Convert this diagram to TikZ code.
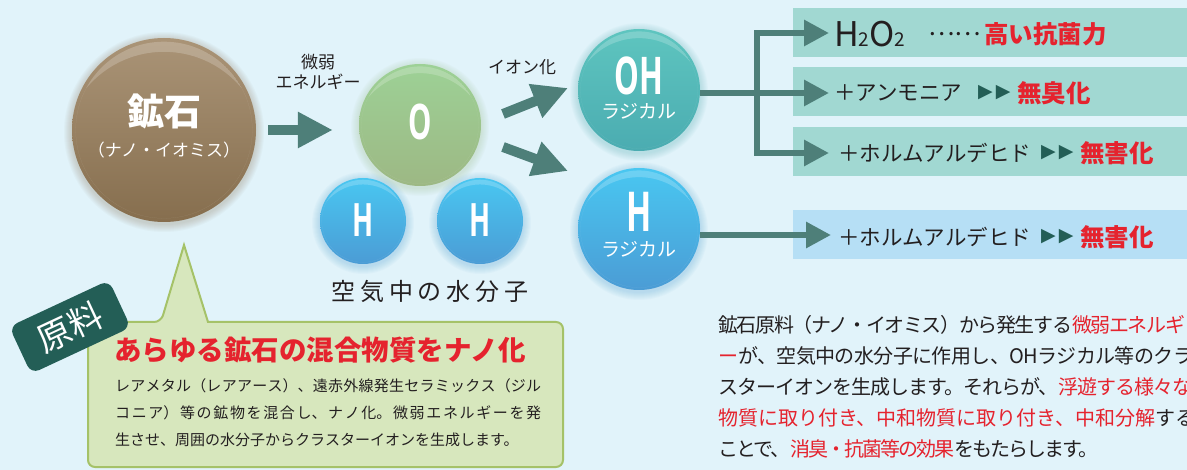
\documentclass[tikz,border=0pt]{standalone}
\usepackage{fontspec}
\setmainfont{Noto Sans CJK JP}
\newfontfamily\condf[FakeStretch=0.6]{Open Sans}
\newfontfamily\symf{DejaVu Sans}
\usetikzlibrary{arrows.meta,calc}
\definecolor{bg}{HTML}{E1F3FA}
\definecolor{arr}{HTML}{4E7F79}
\definecolor{tagc}{HTML}{235E56}
\definecolor{redc}{HTML}{E5232E}
\definecolor{ink}{HTML}{231F20}
\definecolor{boxg}{HTML}{A1D8D2}
\definecolor{boxb}{HTML}{B6DFF5}
\definecolor{calfill}{HTML}{D7E7BD}
\definecolor{caldraw}{HTML}{A5C268}
\definecolor{oreT}{HTML}{AA9477}
\definecolor{oreB}{HTML}{866E4E}
\definecolor{oT}{HTML}{9DD196}
\definecolor{oB}{HTML}{9DB884}
\definecolor{hT}{HTML}{49C7F1}
\definecolor{hB}{HTML}{4B9CD5}
\definecolor{ohT}{HTML}{5EC5BF}
\definecolor{ohB}{HTML}{4BACB1}
\XeTeXlinebreaklocale "ja"
\XeTeXlinebreakskip=0pt plus 1pt
\newcommand\fs[1]{\fontsize{#1}{#1}\selectfont}
\newcommand\lsp[1]{\addfontfeature{LetterSpace=#1}}
\newcommand\myball[6]{%
  \foreach \k in {1,...,8}{\fill[#6,opacity=0.035] (#2,#3+2) circle[radius=#4+\k];}
  \node[circle,inner sep=0,minimum size={2*#4pt},top color=#5,bottom color=#6] (#1) at (#2,#3) {};
  \begin{scope}
    \clip (#2,#3) circle[radius=#4*0.96];
    \fill[white,opacity=0.2,even odd rule] (#2,#3) circle[radius=#4*0.96] (#2,#3+#4*0.25) circle[radius=#4*1.1];
  \end{scope}
}
\tikzset{
  tbox/.style={fill=#1, inner sep=0, minimum height=49pt, minimum width=430pt, anchor=west},
  blk/.style={draw=arr, line width=10pt, -{Triangle[length=35pt,width=34pt]}},
  br/.style={draw=arr, line width=6pt},
  brtip/.style={br, -{Triangle[length=25pt,width=25pt]}},
  txt/.style={anchor=west, inner sep=0, text=ink},
  lbl/.style={inner sep=0, text=ink, font=\fs{17}},
  wtxt/.style={inner sep=0, text=white}
}
\begin{document}
\begin{tikzpicture}[x=1pt,y=-1pt]
\useasboundingbox (0,0) rectangle (1187,470);
\clip (0,0) rectangle (1187,470);
\fill[bg] (0,0) rectangle (1187,470);

% result boxes
\node[tbox=boxg] (b1) at (793,32.5) {};
\node[tbox=boxg] (b2) at (793,91.5) {};
\node[tbox=boxg] (b3) at (793,151.5) {};
\node[tbox=boxb] (b4) at (793,235) {};

% balls
\myball{ore}{164}{130}{92}{oreT}{oreB}
\myball{O}{420}{125}{61}{oT}{oB}
\myball{H1}{363}{221}{43}{hT}{hB}
\myball{H2}{480}{221}{43}{hT}{hB}
\myball{OH}{639}{90}{61}{ohT}{ohB}
\myball{Hr}{639}{229}{61}{hT}{hB}

% ball texts
\node[wtxt, font=\bfseries\fs{37}] (oreT1) at (164,111) {鉱石};
\node[wtxt, font=\fs{17}] (oreT2) at (164,150) {（ナノ・イオミス）};
\node[wtxt, font=\condf\bfseries\fs{49}] (Ot) at (420,122) {O};
\node[wtxt, font=\condf\bfseries\fs{46}] (H1t) at (363,220) {H};
\node[wtxt, font=\condf\bfseries\fs{46}] (H2t) at (480,220) {H};
\node[wtxt, font=\condf\bfseries\fs{52}] (OHt) at (639,76) {OH};
\node[wtxt, font=\fs{19}] (OHr) at (639,111) {ラジカル};
\node[wtxt, font=\condf\bfseries\fs{55}] (Hrt) at (639,212) {H};
\node[wtxt, font=\fs{19}] (Hrr) at (639,249) {ラジカル};

% labels
\node[lbl] (l1) at (318,62) {微弱};
\node[lbl] (l2) at (318,82) {エネルギー};
\node[lbl] (l3) at (522,67) {イオン化};
\node[inner sep=0, text=ink, font={\fs{24}\lsp{20}}] (water) at (430,291) {空気中の水分子};

% arrows
\draw[blk, shorten <=12pt, shorten >=26pt] (ore.east) -- (O.west |- ore.east);
\coordinate (u1) at (503,114); \coordinate (u2) at (568,88);
\coordinate (d1) at (503,147); \coordinate (d2) at (568,171);
\draw[blk] (u1) -- (u2);
\draw[blk] (d1) -- (d2);

\coordinate (j) at (757,93);
\coordinate (t1) at (829,33);
\coordinate (t2) at (829,93);
\coordinate (t3) at (829,153);
\coordinate (t4) at (831,235);
\draw[brtip] (OH.east |- j) -- (t2);
\draw[brtip] (j) |- (t1);
\draw[brtip] (j) |- (t3);
\draw[brtip] (Hr.east |- t4) -- (t4);

% box texts
\node[txt] (h2o2) at (834,34) {\fs{34}H\fs{19}2\fs{34}O\fs{19}2};
\node[txt, font=\fs{25}] (dots) at (928,34) {……};
\node[txt, text=redc, font=\bfseries\fs{24.5}] (r1) at (984,34) {高い抗菌力};

\node[txt, font=\fs{21.5}] (a2) at (834,93) {＋アンモニア};
\node[txt, text=tagc, font=\symf\fs{19}] (p2) at (978,93) {▶\kern3pt▶};
\node[txt, text=redc, font=\bfseries\fs{24.5}] (r2) at (1017,93) {無臭化};

\node[txt, font=\fs{21.5}] (a3) at (838,153) {＋ホルムアルデヒド};
\node[txt, text=tagc, font=\symf\fs{19}] (p3) at (1041,153) {▶\kern3pt▶};
\node[txt, text=redc, font=\bfseries\fs{24.5}] (r3) at (1080,153) {無害化};

\node[txt, font=\fs{21.5}] (a4) at (838,237) {＋ホルムアルデヒド};
\node[txt, text=tagc, font=\symf\fs{19}] (p4) at (1041,237) {▶\kern3pt▶};
\node[txt, text=redc, font=\bfseries\fs{24.5}] (r4) at (1080,237) {無害化};

% callout
\draw[fill=calfill, draw=caldraw, line width=2pt, rounded corners=7pt]
  (88,322) -- (161,322) [sharp corners] -- (184,245) -- (208,322) [rounded corners=7pt]
  -- (563,322) -- (563,467) -- (88,467) -- cycle;
\node[rotate=25, fill=tagc, rounded corners=9pt, minimum width=110pt, minimum height=52pt,
      inner sep=0, text=white, font=\fs{34}] (tag) at (70,327) {原料};
\node[inner sep=0, text=redc, font=\bfseries\fs{27.5}] (title) at (320,350) {あらゆる鉱石の混合物質をナノ化};
\node[anchor=north west, inner sep=0, text width=426pt, align=justify, text=ink,
      font=\fontsize{15}{27}\selectfont] (body) at (115,378)
  {レアメタル（レアアース）、遠赤外線発生セラミックス（ジル\linebreak
   コニア）等の鉱物を混合し、ナノ化。微弱エネルギーを発\linebreak
   生させ、周囲の水分子からクラスターイオンを生成します。};

% description
\node[anchor=north west, inner sep=0, align=left, text=ink,
      font=\fontsize{20}{31}\selectfont] (desc) at (718,315)
  {{\lsp{-7}鉱石原料（ナノ・イオミス）から発生する\textcolor{redc}{微弱エネルギ}}\\
   {\lsp{-3}\textcolor{redc}{ー}が、空気中の水分子に作用し、OHラジカル等のクラ}\\
   {\lsp{-5}スターイオンを生成します。それらが、\textcolor{redc}{浮遊する様々な}}\\
   {\textcolor{redc}{物質に取り付き、中和物質に取り付き、中和分解}する}\\
   {\lsp{-10}ことで、\textcolor{redc}{消臭・抗菌等の効果}をもたらします。}};
\end{tikzpicture}
\end{document}
